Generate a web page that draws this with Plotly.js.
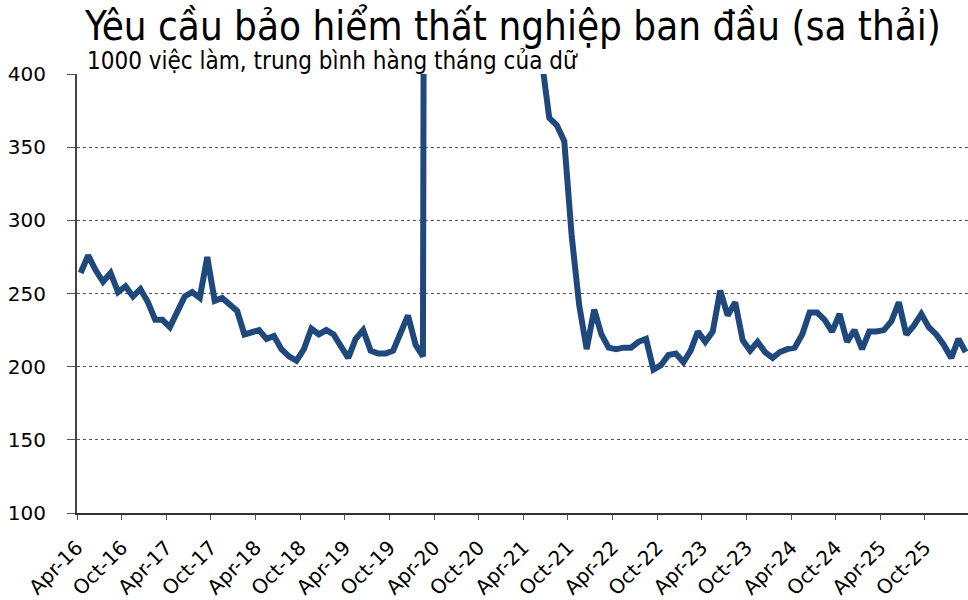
<!DOCTYPE html>
<html>
<head>
<meta charset="utf-8">
<script src="https://cdn.plot.ly/plotly-3.0.1.min.js"></script>
<style>html,body{margin:0;padding:0;background:#fff;}#chart{width:968px;height:600px;}</style>
</head>
<body>
<div id="chart"></div>
<script>
// Monthly periods (points drawn at mid-month)
const months = [
  "2016-04","2016-05","2016-06","2016-07","2016-08","2016-09","2016-10","2016-11","2016-12",
  "2017-01","2017-02","2017-03","2017-04","2017-05","2017-06","2017-07","2017-08","2017-09","2017-10","2017-11","2017-12",
  "2018-01","2018-02","2018-03","2018-04","2018-05","2018-06","2018-07","2018-08","2018-09","2018-10","2018-11","2018-12",
  "2019-01","2019-02","2019-03","2019-04","2019-05","2019-06","2019-07","2019-08","2019-09","2019-10","2019-11","2019-12",
  "2020-01","2020-02","2020-03","2020-04","2020-05","2020-06","2020-07","2020-08","2020-09","2020-10","2020-11","2020-12",
  "2021-01","2021-02","2021-03","2021-04","2021-05","2021-06","2021-07","2021-08","2021-09","2021-10","2021-11","2021-12",
  "2022-01","2022-02","2022-03","2022-04","2022-05","2022-06","2022-07","2022-08","2022-09","2022-10","2022-11","2022-12",
  "2023-01","2023-02","2023-03","2023-04","2023-05","2023-06","2023-07","2023-08","2023-09","2023-10","2023-11","2023-12",
  "2024-01","2024-02","2024-03","2024-04","2024-05","2024-06","2024-07","2024-08","2024-09","2024-10","2024-11","2024-12",
  "2025-01","2025-02","2025-03","2025-04","2025-05","2025-06","2025-07","2025-08","2025-09","2025-10","2025-11","2025-12",
  "2026-01","2026-02","2026-03"
];
// Initial jobless claims, thousands, monthly average
const claims = [
  264,276,266,258,264,251,255,248,253,
  244,232,232,227,237,248,251,247,275,245,247,242,
  238,222,224,225,219,221,212,207,204,212,226,222,
  225,222,214,206,219,225,211,209,209,211,223,235,
  215,207,2378,4525,2200,1500,1376,1067,872,788,741,835,
  853,781,693,570,460,409,370,365,354,289,242,212,
  239,222,213,212,213,213,217,219,198,201,208,209,
  203,211,224,217,224,252,235,244,218,211,217,210,
  206,210,212,213,222,237,237,232,224,236,217,225,
  212,224,224,225,231,244,222,228,236,227,222,215,
  206,219,210
];
const titleText = "Yêu cầu bảo hiểm thất nghiệp ban đầu (sa thải)";
const subtitleText = "1000 việc làm, trung bình hàng tháng của dữ";
const yTicks = [100,150,200,250,300,350,400];

const narrow = "'Liberation Sans Narrow', 'DejaVu Sans Condensed', 'Arial Narrow', sans-serif";

const trace = {
  x: months,
  y: claims,
  xperiod: "M1",
  xperiodalignment: "middle",
  type: "scatter",
  mode: "lines",
  line: {color: "#1f497d", width: 6},
  hoverinfo: "x+y"
};

const layout = {
  width: 968,
  height: 600,
  margin: {l: 77, r: 0, t: 74, b: 87},
  paper_bgcolor: "#ffffff",
  plot_bgcolor: "#ffffff",
  showlegend: false,
  title: {
    text: titleText,
    xref: "container", yref: "container",
    x: 85/968, xanchor: "left",
    y: 1 - 26/600, yanchor: "middle",
    font: {family: narrow, size: 40, color: "#000000"}
  },
  annotations: [{
    text: subtitleText,
    xref: "paper", yref: "paper",
    x: 8/891, y: 1, xanchor: "left", yanchor: "bottom",
    yshift: -3,
    showarrow: false,
    font: {family: narrow, size: 24, color: "#000000"}
  }],
  xaxis: {
    type: "date",
    range: ["2016-04-01", "2026-03-26"],
    tick0: "2016-04-01",
    dtick: "M6",
    tickformat: "%b-%y",
    tickangle: -45,
    ticks: "outside",
    ticklen: 5,
    tickwidth: 1,
    tickcolor: "#555",
    ticklabelstandoff: 8,
    showline: true,
    linecolor: "#333",
    linewidth: 2,
    showgrid: false,
    zeroline: false,
    tickfont: {family: "'DejaVu Sans', sans-serif", size: 20, color: "#000"}
  },
  yaxis: {
    range: [100, 400],
    tickvals: yTicks,
    ticks: "outside",
    ticklen: 8,
    tickwidth: 1,
    tickcolor: "#555",
    ticklabelstandoff: 17,
    showline: true,
    linecolor: "#444",
    linewidth: 2,
    showgrid: true,
    gridcolor: "#555",
    griddash: "dot",
    gridwidth: 1,
    zeroline: false,
    tickfont: {family: "'DejaVu Sans', sans-serif", size: 20, color: "#000"}
  }
};

Plotly.newPlot("chart", [trace], layout, {displayModeBar: false, staticPlot: true});
</script>
</body>
</html>
